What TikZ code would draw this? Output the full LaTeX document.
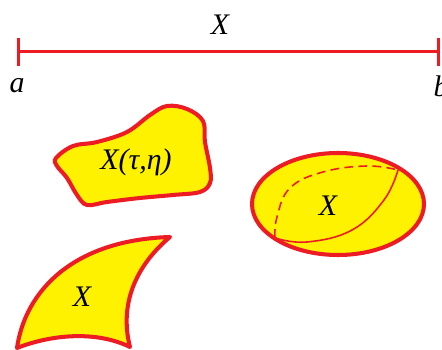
\documentclass[tikz,border=0pt]{standalone}
\usepackage{fontspec}
\setmainfont{Liberation Serif}
\usetikzlibrary{arrows.meta}
\definecolor{setred}{HTML}{ED1C24}
\definecolor{setyellow}{HTML}{FFF200}
\tikzset{
    region/.style={draw=setred, fill=setyellow, line width=2.3pt, line join=round},
    interval/.style={draw=setred, line width=1.7pt, {Bar[width=16pt]}-{Bar[width=16pt]}},
    fold/.style={draw=setred, line width=0.9pt},
    lbl/.style={font=\fontsize{17}{20}\selectfont\itshape, inner sep=0pt},
}
\begin{document}
\begin{tikzpicture}[x=0.02cm, y=-0.02cm]
\useasboundingbox (0,0) rectangle (442,350);

% ── Interval [a,b] ──
\coordinate (pa) at (17,52);
\coordinate (pb) at (440,52);
\draw[interval] (pa) -- (pb);
\node[lbl] (lblX) at (220,25) {X};
\node[lbl] (lbla) at (17,86) {a};
\node[lbl] (lblb) at (441,86) {b};

% ── Blob ──
\draw[region] plot[smooth cycle, tension=0.6] coordinates {
    (56,158) (73,146) (97,142) (127,132) (150,115) (167,106) (187,109)
    (203,121) (205,142) (210,168) (210,183) (200,192) (173,195) (140,198)
    (107,202) (87,205) (77,195) (67,178) (57,166)};
\node[lbl] (lblblob) at (136,162) {X(τ,η)};

% ── Ellipsoid ──
\draw[region] (338,204) ellipse [x radius=86, y radius=51];
\draw[fold, dashed, dash pattern=on 5pt off 3pt] plot[smooth, tension=0.7] coordinates {
    (275,238) (277,217) (290,188) (323,172) (367,166) (398,170)};
\draw[fold] plot[smooth, tension=0.7] coordinates {
    (275,238) (307,242) (352,230) (384,200) (398,170)};
\node[lbl] (lblball) at (328,206) {X};

% ── Fin ──
\draw[region] (17,348) .. controls (25,292) and (72,240) .. (170,237)
    .. controls (140,262) and (118,300) .. (130,347)
    .. controls (95,330) and (50,335) .. cycle;
\node[lbl] (lblfin) at (82,297) {X};

\end{tikzpicture}
\end{document}
